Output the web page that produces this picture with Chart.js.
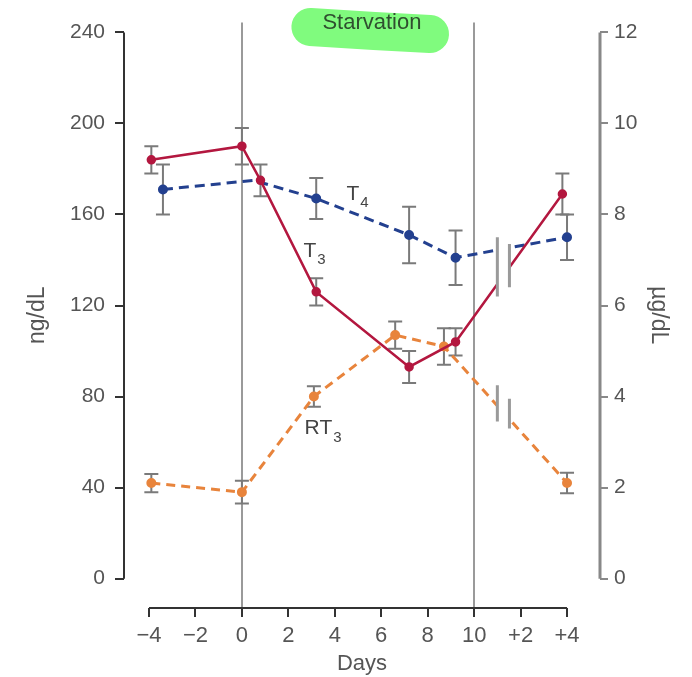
<!DOCTYPE html>
<html lang="en">
<head>
    <meta charset="UTF-8">
    <script src="https://cdn.jsdelivr.net/npm/chart.js"></script>
    <title>Thyroid hormones during starvation</title>
    <style>
        html, body { margin: 0; padding: 0; background: #fff; }
        #wrap { width: 692px; height: 677px; }
    </style>
</head>
<body>
    <div id="wrap"><canvas id="hormoneChart" width="692" height="677"></canvas></div>

    <script>
        // x in days: 10 days of starvation, refeeding days shown as +2, +4 (= 12, 14)
        var dayTicks = [-4, -2, 0, 2, 4, 6, 8, 10, 12, 14];
        var leftTicks = [0, 40, 80, 120, 160, 200, 240];
        var rightTicks = [0, 2, 4, 6, 8, 10, 12];

        // T3, ng/dL (left axis)
        var t3Days = [-3.9, 0, 0.8, 3.2, 7.2, 9.2, 13.8];
        var t3Values = [184, 190, 175, 126, 93, 104, 169];
        var t3Err = [6, 8, 7, 6, 7, 6, 9];

        // T4, ug/dL (right axis)
        var t4Days = [-3.4, 0.5, 3.2, 7.2, 9.2, 14];
        var t4Values = [8.55, 8.75, 8.35, 7.55, 7.05, 7.5];
        var t4Err = [0.55, null, 0.45, 0.62, 0.6, 0.5];

        // RT3, ng/dL (left axis)
        var rt3Days = [-3.9, 0, 3.1, 6.6, 8.7, 14];
        var rt3Values = [42, 38, 80, 107, 102, 42];
        var rt3Err = [4, 5, 4.5, 6, 8, 4.5];

        var textColor = '#555';
        var fontFamily = '"Liberation Sans", Arial, sans-serif';

        function toPoints(xs, ys) {
            return xs.map(function (x, i) { return { x: x, y: ys[i] }; });
        }

        function dayLabel(v) {
            if (v > 10) return '+' + (v - 10);
            if (v < 0) return '\u2212' + Math.abs(v);
            return '' + v;
        }

        var decorPlugin = {
            id: 'decor',
            beforeDatasetsDraw: function (chart) {
                var ctx = chart.ctx;
                var x = chart.scales.x, y = chart.scales.y, y1 = chart.scales.y1;
                var area = chart.chartArea;
                ctx.save();

                // starvation period limits
                ctx.strokeStyle = '#9a9a9a';
                ctx.lineWidth = 2;
                [0, 10].forEach(function (d) {
                    var px = Math.round(x.getPixelForValue(d));
                    ctx.beginPath();
                    ctx.moveTo(px, area.top);
                    ctx.lineTo(px, area.bottom);
                    ctx.stroke();
                });

                // axis lines
                ctx.strokeStyle = '#333';
                ctx.lineWidth = 2;
                ctx.beginPath();
                ctx.moveTo(area.left, y.getPixelForValue(240));
                ctx.lineTo(area.left, y.getPixelForValue(0));
                ctx.moveTo(x.getPixelForValue(-4), area.bottom);
                ctx.lineTo(x.getPixelForValue(14), area.bottom);
                ctx.stroke();
                ctx.strokeStyle = '#888';
                ctx.lineWidth = 3;
                ctx.beginPath();
                ctx.moveTo(area.right, y1.getPixelForValue(12));
                ctx.lineTo(area.right, y1.getPixelForValue(0));
                ctx.stroke();

                // error bars
                ctx.strokeStyle = '#7a7a7a';
                ctx.lineWidth = 2;
                function bars(xs, ys, errs, scale) {
                    xs.forEach(function (d, i) {
                        if (errs[i] == null) return;
                        var px = x.getPixelForValue(d);
                        var top = scale.getPixelForValue(ys[i] + errs[i]);
                        var bot = scale.getPixelForValue(ys[i] - errs[i]);
                        ctx.beginPath();
                        ctx.moveTo(px, top); ctx.lineTo(px, bot);
                        ctx.moveTo(px - 7, top); ctx.lineTo(px + 7, top);
                        ctx.moveTo(px - 7, bot); ctx.lineTo(px + 7, bot);
                        ctx.stroke();
                    });
                }
                bars(t3Days, t3Values, t3Err, y);
                bars(t4Days, t4Values, t4Err, y1);
                bars(rt3Days, rt3Values, rt3Err, y);

                // highlighted "Starvation" label
                var bx0 = x.getPixelForValue(2.95), bx1 = x.getPixelForValue(8.1);
                ctx.strokeStyle = '#80fb7e';
                ctx.lineCap = 'round';
                ctx.lineWidth = 38;
                ctx.beginPath();
                ctx.moveTo(bx0, 27);
                ctx.quadraticCurveTo((bx0 + bx1) / 2, 31, bx1, 34);
                ctx.stroke();
                ctx.fillStyle = '#2f4f2f';
                ctx.font = '22px ' + fontFamily;
                ctx.textAlign = 'center';
                ctx.textBaseline = 'middle';
                ctx.fillText('Starvation', x.getPixelForValue(5.6), 23);
                ctx.restore();
            },
            afterDatasetsDraw: function (chart) {
                var ctx = chart.ctx;
                var x = chart.scales.x, y = chart.scales.y;
                ctx.save();

                // axis break marks after day 10
                function brk(hi1, lo1, hi2, lo2) {
                    var xa = x.getPixelForValue(11.0), xb = x.getPixelForValue(11.52);
                    ctx.fillStyle = '#fff';
                    ctx.fillRect(xa, y.getPixelForValue(Math.max(hi1, hi2)), xb - xa,
                        y.getPixelForValue(Math.min(lo1, lo2)) - y.getPixelForValue(Math.max(hi1, hi2)));
                    ctx.strokeStyle = '#9a9a9a';
                    ctx.lineWidth = 3;
                    ctx.beginPath();
                    ctx.moveTo(xa, y.getPixelForValue(hi1)); ctx.lineTo(xa, y.getPixelForValue(lo1));
                    ctx.moveTo(xb, y.getPixelForValue(hi2)); ctx.lineTo(xb, y.getPixelForValue(lo2));
                    ctx.stroke();
                }
                brk(150, 124, 147, 128);
                brk(85, 69, 79, 66);

                // series labels with subscripts
                function label(main, sub, d, v) {
                    var px = x.getPixelForValue(d), py = y.getPixelForValue(v);
                    ctx.fillStyle = '#444';
                    ctx.textAlign = 'left';
                    ctx.textBaseline = 'middle';
                    ctx.font = '21px ' + fontFamily;
                    ctx.fillText(main, px, py);
                    var w = ctx.measureText(main).width;
                    ctx.font = '15px ' + fontFamily;
                    ctx.fillText(sub, px + w + 1, py + 9);
                }
                label('T', '4', 4.5, 169);
                label('T', '3', 2.65, 144);
                label('RT', '3', 2.7, 66);
                ctx.restore();
            }
        };

        var ctx = document.getElementById('hormoneChart').getContext('2d');
        new Chart(ctx, {
            type: 'line',
            data: {
                datasets: [{
                    label: 'T3',
                    data: toPoints(t3Days, t3Values),
                    yAxisID: 'y',
                    borderColor: '#b3173f',
                    backgroundColor: '#b3173f',
                    borderWidth: 2.5,
                    pointRadius: 3.5,
                    tension: 0
                }, {
                    label: 'T4',
                    data: toPoints(t4Days, t4Values),
                    yAxisID: 'y1',
                    borderColor: '#23408f',
                    backgroundColor: '#23408f',
                    borderWidth: 3,
                    borderDash: [10, 6],
                    pointRadius: [3.5, 0, 3.5, 3.5, 3.5, 3.5],
                    tension: 0
                }, {
                    label: 'RT3',
                    data: toPoints(rt3Days, rt3Values),
                    yAxisID: 'y',
                    borderColor: '#e8843c',
                    backgroundColor: '#e8843c',
                    borderWidth: 3,
                    borderDash: [9, 6],
                    pointRadius: 3.5,
                    tension: 0
                }]
            },
            options: {
                responsive: false,
                animation: false,
                layout: { padding: { top: 10 } },
                plugins: {
                    legend: { display: false },
                    tooltip: { enabled: false }
                },
                scales: {
                    x: {
                        type: 'linear',
                        min: -5.077,
                        max: 15.42,
                        afterBuildTicks: function (s) { s.ticks = dayTicks.map(function (v) { return { value: v }; }); },
                        afterFit: function (s) { s.height = 69; },
                        border: { display: false },
                        grid: { drawOnChartArea: false, drawTicks: true, tickLength: 9, color: '#333', lineWidth: 2 },
                        ticks: {
                            color: textColor,
                            font: { family: fontFamily, size: 22 },
                            padding: 6,
                            maxRotation: 0,
                            autoSkip: false,
                            callback: function (v) { return dayLabel(v); }
                        },
                        title: {
                            display: true,
                            text: 'Days',
                            color: textColor,
                            font: { family: fontFamily, size: 22 },
                            padding: { top: 0, bottom: 0 }
                        }
                    },
                    y: {
                        position: 'left',
                        min: -12.9,
                        max: 244.3,
                        afterBuildTicks: function (s) { s.ticks = leftTicks.map(function (v) { return { value: v }; }); },
                        afterFit: function (s) { s.width = 124; },
                        border: { display: false },
                        grid: { drawOnChartArea: false, drawTicks: true, tickLength: 9, color: '#333', lineWidth: 2 },
                        ticks: {
                            color: textColor,
                            font: { family: fontFamily, size: 21 },
                            padding: 10
                        },
                        title: {
                            display: true,
                            text: 'ng/dL',
                            color: textColor,
                            font: { family: fontFamily, size: 23 },
                            padding: { top: 24, bottom: 0 }
                        }
                    },
                    y1: {
                        position: 'right',
                        min: -0.645,
                        max: 12.215,
                        afterBuildTicks: function (s) { s.ticks = rightTicks.map(function (v) { return { value: v }; }); },
                        afterFit: function (s) { s.width = 92; },
                        border: { display: false },
                        grid: { drawOnChartArea: false, drawTicks: true, tickLength: 8, color: '#888', lineWidth: 2 },
                        ticks: {
                            color: textColor,
                            font: { family: fontFamily, size: 21 },
                            padding: 6
                        },
                        title: {
                            display: true,
                            text: '\u00b5g/dL',
                            color: textColor,
                            font: { family: fontFamily, size: 23 },
                            padding: { top: 20, bottom: 0 }
                        }
                    }
                }
            },
            plugins: [decorPlugin]
        });
    </script>
</body>
</html>
